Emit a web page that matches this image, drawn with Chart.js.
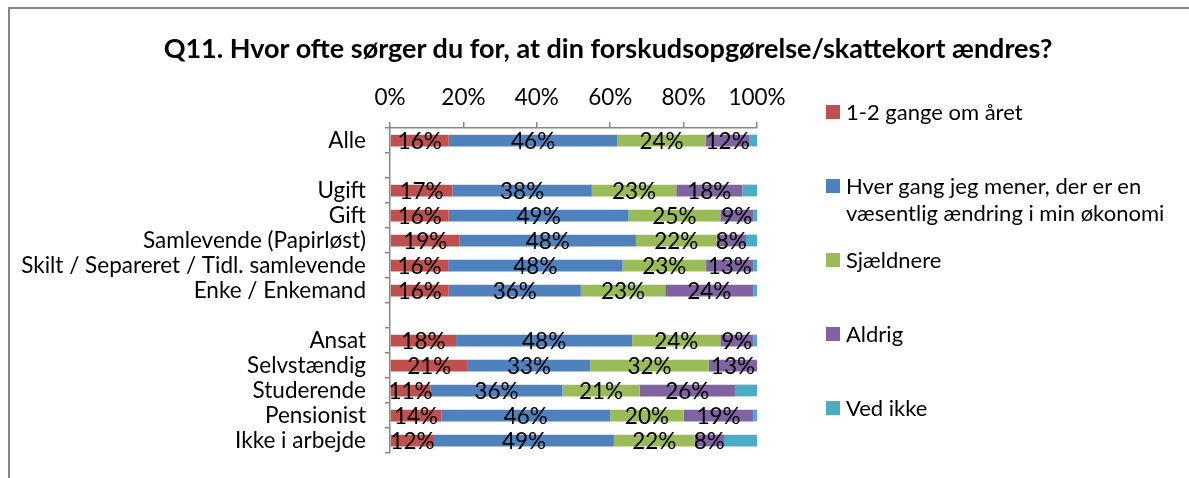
<!DOCTYPE html>
<html>
<head>
<meta charset="utf-8">
<script src="https://cdn.jsdelivr.net/npm/chart.js@4.4.1/dist/chart.umd.min.js"></script>
<style>
  html, body { margin: 0; padding: 0; background: #fff; }
  #wrap { position: relative; width: 1189px; height: 478px; overflow: hidden; font-family: Lato, "Open Sans", sans-serif; }
  #c { position: absolute; left: 0; top: 0; }
  #frame { position: absolute; left: 8px; top: 7px; width: 1300px; height: 600px; border-left: 2px solid #878787; border-top: 2px solid #878787; }
  #title { position: absolute; left: 0; top: 31px; width: 1216px; text-align: center; font-weight: bold; font-size: 27px; line-height: 34px; color: #000; white-space: nowrap; }
  #legend { position: absolute; left: 826px; top: 0; }
  .li { position: absolute; left: 0; white-space: nowrap; font-size: 22px; line-height: 27px; color: #000; }
  .sw { position: absolute; left: 0; width: 14px; height: 14px; }
  .tx { position: absolute; left: 20px; top: 0; }
</style>
</head>
<body>
<div id="wrap">
  <div id="frame"></div>
  <canvas id="c" width="1189" height="478"></canvas>
  <div id="title"></div>
  <div id="legend"></div>
</div>
<script>
const titleText = "Q11. Hvor ofte sørger du for, at din forskudsopgørelse/skattekort ændres?";
const categories = ["Alle", "", "Ugift", "Gift", "Samlevende (Papirløst)", "Skilt / Separeret / Tidl. samlevende", "Enke / Enkemand", "", "Ansat", "Selvstændig", "Studerende", "Pensionist", "Ikke i arbejde"];
const seriesNames = [
  ["1-2 gange om året"],
  ["Hver gang jeg mener, der er en", "væsentlig ændring i min økonomi"],
  ["Sjældnere"],
  ["Aldrig"],
  ["Ved ikke"]
];
const seriesColors = ["#C0504D", "#4F81BD", "#9BBB59", "#8064A2", "#4BACC6"];
const gange12   = [16, null, 17, 16, 19, 16, 16, null, 18, 21, 11, 14, 12];
const hverGang  = [46, null, 38, 49, 48, 48, 36, null, 48, 33, 36, 46, 49];
const sjaeldnere= [24, null, 23, 25, 22, 23, 23, null, 24, 32, 21, 20, 22];
const aldrig    = [12, null, 18,  9,  8, 13, 24, null,  9, 13, 26, 19,  8];
const vedIkke   = [ 2, null,  4,  1,  3,  1,  1, null,  1,  0,  6,  1,  9];
const xTicks = [0, 20, 40, 60, 80, 100];

const raw = [gange12, hverGang, sjaeldnere, aldrig, vedIkke];
// 100% stacked: normalise each row
const rowSums = categories.map((_, j) => raw.reduce((s, arr) => s + (arr[j] || 0), 0));
const norm = raw.map(arr => arr.map((v, j) => v == null ? null : v / rowSums[j] * 100));

document.getElementById('title').textContent = titleText;

// HTML legend
const legendTops = [98, 172, 246, 320, 394];
const legend = document.getElementById('legend');
seriesNames.forEach((name, i) => {
  const item = document.createElement('div');
  item.className = 'li';
  item.style.top = legendTops[i] + 'px';
  const sw = document.createElement('div');
  sw.className = 'sw';
  sw.style.background = seriesColors[i];
  sw.style.top = '7px';
  item.appendChild(sw);
  const tx = document.createElement('div');
  tx.className = 'tx';
  tx.innerHTML = name.map(s => s.replace(/&/g,'&amp;').replace(/</g,'&lt;')).join('<br>');
  item.appendChild(tx);
  legend.appendChild(item);
});

const FONT = { family: 'Lato, "Open Sans", sans-serif', size: 22.5 };
const GRAY = '#878787';

const segLabels = {
  id: 'segLabels',
  afterDatasetsDraw(chart) {
    const ctx = chart.ctx;
    ctx.save();
    ctx.font = FONT.size + 'px ' + FONT.family;
    ctx.fillStyle = '#000';
    ctx.textAlign = 'center';
    ctx.textBaseline = 'middle';
    for (let i = 0; i < 4; i++) {
      const meta = chart.getDatasetMeta(i);
      meta.data.forEach((el, j) => {
        const v = raw[i][j];
        if (v == null) return;
        const p = el.getProps(['x', 'y', 'base'], true);
        ctx.fillText(v + '%', (p.x + p.base) / 2, p.y + 1);
      });
    }
    ctx.restore();
  }
};

new Chart(document.getElementById('c'), {
  type: 'bar',
  data: {
    labels: categories,
    datasets: norm.map((arr, i) => ({
      label: seriesNames[i].join(' '),
      data: arr,
      backgroundColor: seriesColors[i],
      borderWidth: 0,
      barPercentage: 0.47,
      categoryPercentage: 1.0
    }))
  },
  options: {
    indexAxis: 'y',
    responsive: false,
    animation: false,
    layout: { padding: { left: 0, right: 432, top: 0, bottom: 25 } },
    plugins: {
      legend: { display: false },
      title: { display: false },
      tooltip: { enabled: false }
    },
    scales: {
      x: {
        position: 'top',
        stacked: true,
        min: 0, max: 100,
        afterFit(s) { s.height = 128; },
        afterBuildTicks(s) { s.ticks = xTicks.map(v => ({ value: v })); },
        ticks: { callback: v => v + '%', color: '#000', font: FONT, padding: 11, maxRotation: 0 },
        grid: { drawOnChartArea: false, tickLength: 6, color: GRAY, lineWidth: 1.5 },
        border: { color: GRAY, width: 1.5 }
      },
      y: {
        stacked: true,
        afterFit(s) { s.width = 390; s.paddingTop = 0; s.paddingBottom = 0; },
        ticks: { color: '#000', font: FONT, padding: 19, autoSkip: false },
        grid: { drawOnChartArea: false, tickLength: 5, color: GRAY, lineWidth: 1.5, offset: true },
        border: { color: GRAY, width: 1.5 }
      }
    }
  },
  plugins: [segLabels]
});
</script>
</body>
</html>
